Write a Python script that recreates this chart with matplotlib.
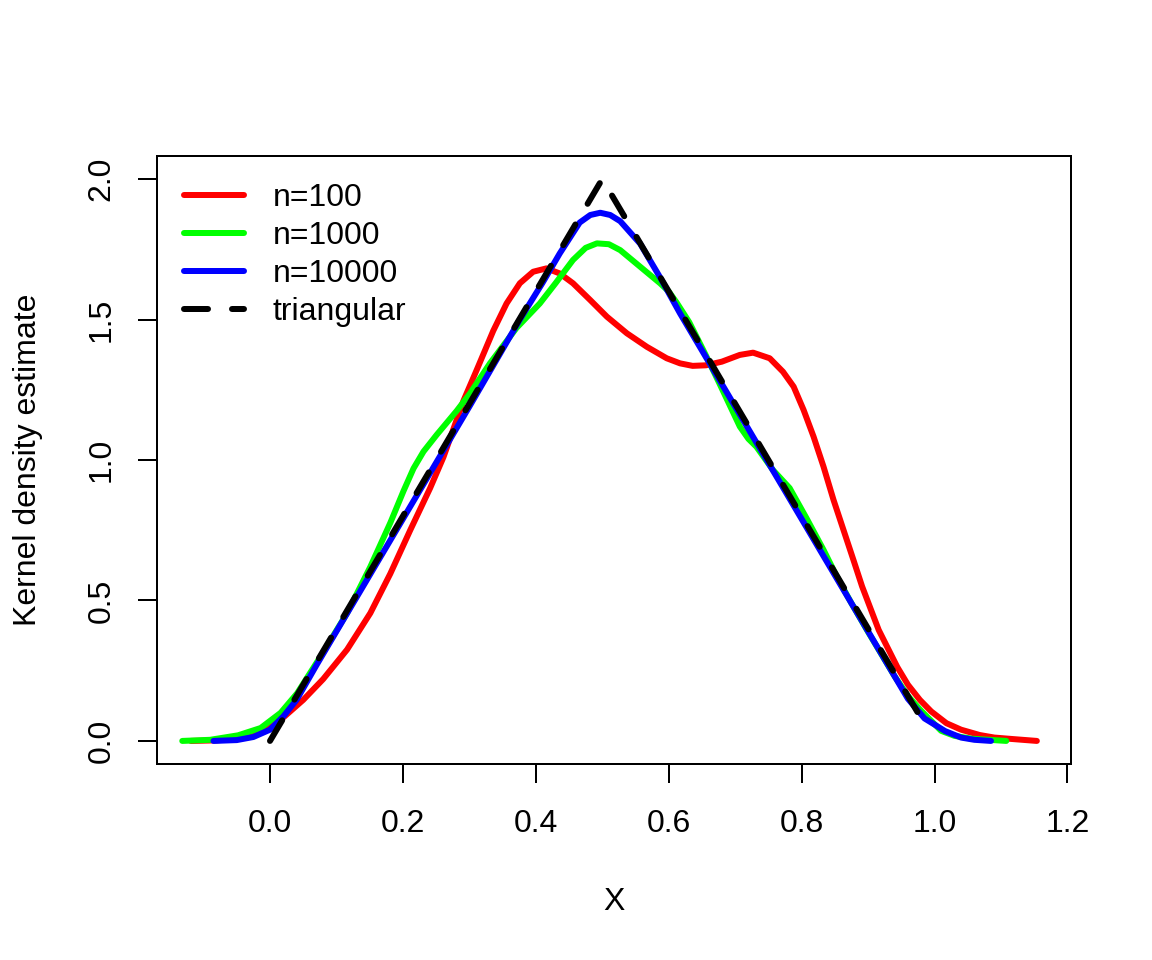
"""
Kernel density estimates of samples from a triangular distribution,
drawn in the style of a base R plot.
"""

import matplotlib
matplotlib.use("Agg")
import matplotlib.pyplot as plt

# density curves, one (x, y) list per sample size
n100_x = [-0.119, -0.08, -0.05, -0.025, 0.0, 0.016, 0.05, 0.08, 0.116, 0.151,
          0.181, 0.211, 0.241, 0.261, 0.291, 0.311, 0.336, 0.356, 0.376, 0.396,
          0.416, 0.436, 0.456, 0.482, 0.507, 0.537, 0.567, 0.597, 0.617, 0.636,
          0.656, 0.68, 0.707, 0.727, 0.752, 0.772, 0.788, 0.803, 0.818, 0.833,
          0.848, 0.863, 0.878, 0.891, 0.916, 0.944, 0.96, 0.978, 0.995, 1.018,
          1.04, 1.068, 1.09, 1.116, 1.154]
n100_y = [0, 0.002, 0.008, 0.028, 0.05, 0.075, 0.146, 0.22, 0.325, 0.455,
          0.595, 0.75, 0.90, 1.01, 1.21, 1.32, 1.46, 1.557, 1.629, 1.67,
          1.682, 1.664, 1.629, 1.569, 1.51, 1.451, 1.403, 1.362, 1.344, 1.335,
          1.337, 1.35, 1.374, 1.382, 1.362, 1.314, 1.261, 1.178, 1.083, 0.976,
          0.858, 0.751, 0.644, 0.55, 0.395, 0.263, 0.20, 0.146, 0.105, 0.063,
          0.04, 0.021, 0.012, 0.007, 0]

n1000_x = [-0.132, -0.09, -0.048, -0.014, 0.016, 0.041, 0.076, 0.116, 0.151,
           0.181, 0.201, 0.216, 0.231, 0.251, 0.281, 0.301, 0.331, 0.371,
           0.406, 0.43, 0.456, 0.475, 0.492, 0.51, 0.527, 0.557, 0.587, 0.60,
           0.612, 0.631, 0.656, 0.676, 0.707, 0.72, 0.732, 0.757, 0.782,
           0.808, 0.833, 0.853, 0.875, 0.90, 0.94, 0.96, 0.98, 1.01, 1.03,
           1.056, 1.108]
n1000_y = [0, 0.004, 0.02, 0.046, 0.10, 0.17, 0.30, 0.455, 0.62,
           0.776, 0.89, 0.97, 1.03, 1.09, 1.175, 1.237, 1.344, 1.47,
           1.557, 1.63, 1.712, 1.755, 1.771, 1.768, 1.747, 1.688, 1.629, 1.60,
           1.56, 1.49, 1.372, 1.274, 1.119, 1.075, 1.047, 0.964, 0.90,
           0.79, 0.68, 0.585, 0.49, 0.388, 0.23, 0.16, 0.107, 0.036, 0.018,
           0.008, 0]

n10000_x = [-0.085, -0.05, -0.025, 0, 0.02, 0.04, 0.07, 0.1, 0.2, 0.3, 0.376,
            0.41, 0.436, 0.466, 0.482, 0.497, 0.512, 0.527, 0.557, 0.587,
            0.617, 0.7, 0.8, 0.9, 0.93, 0.96, 0.985, 1.016, 1.04, 1.06, 1.085]
n10000_y = [0, 0.003, 0.014, 0.04, 0.087, 0.146, 0.27, 0.39, 0.79, 1.19, 1.50,
            1.63, 1.735, 1.845, 1.872, 1.88, 1.872, 1.85, 1.77, 1.65,
            1.522, 1.19, 0.79, 0.39, 0.27, 0.15, 0.08, 0.035, 0.012, 0.004, 0]

# true triangular density
tri_x = [0.0, 0.5, 0.985]
tri_y = [0.0, 2.0, 0.06]

labels = ["n=100", "n=1000", "n=10000", "triangular"]
x_ticks = [0.0, 0.2, 0.4, 0.6, 0.8, 1.0, 1.2]
y_ticks = [0.0, 0.5, 1.0, 1.5, 2.0]

plt.rcParams["font.family"] = ["Liberation Sans", "DejaVu Sans"]
plt.rcParams["font.size"] = 12

fig = plt.figure(figsize=(6, 5), dpi=192)
ax = fig.add_axes([0.1363, 0.2042, 0.7934, 0.6333])

lw = 2.25
ax.plot(n100_x, n100_y, color="#FF0000", lw=lw, solid_capstyle="round",
        solid_joinstyle="round", label=labels[0])
ax.plot(n1000_x, n1000_y, color="#00FF00", lw=lw, solid_capstyle="round",
        solid_joinstyle="round", label=labels[1])
ax.plot(n10000_x, n10000_y, color="#0000FF", lw=lw, solid_capstyle="round",
        solid_joinstyle="round", label=labels[2])
ax.plot(tri_x, tri_y, color="black", lw=lw, dashes=(4, 4),
        dash_capstyle="round", label=labels[3])

ax.set_xlim(-0.170, 1.2054)
ax.set_ylim(-0.082, 2.082)

ax.set_xticks(x_ticks)
ax.set_xticklabels(["%.1f" % t for t in x_ticks])
ax.set_yticks(y_ticks)
ax.set_yticklabels(["%.1f" % t for t in y_ticks], rotation=90, va="center")
ax.tick_params(direction="out", length=7.2, width=0.75, labelsize=12)
ax.tick_params(axis="x", pad=9.8)
ax.tick_params(axis="y", pad=7.9)
for s in ax.spines.values():
    s.set_linewidth(0.75)

ax.set_xlabel("X", labelpad=18)
ax.set_ylabel("Kernel density estimate", labelpad=16.5)

ax.legend(loc="upper left", bbox_to_anchor=(0.0295, 0.956), frameon=False,
          borderaxespad=0, borderpad=0, handlelength=1.88, handletextpad=0.9,
          labelspacing=0.25, fontsize=12)

fig.savefig("out.png", dpi=192)
